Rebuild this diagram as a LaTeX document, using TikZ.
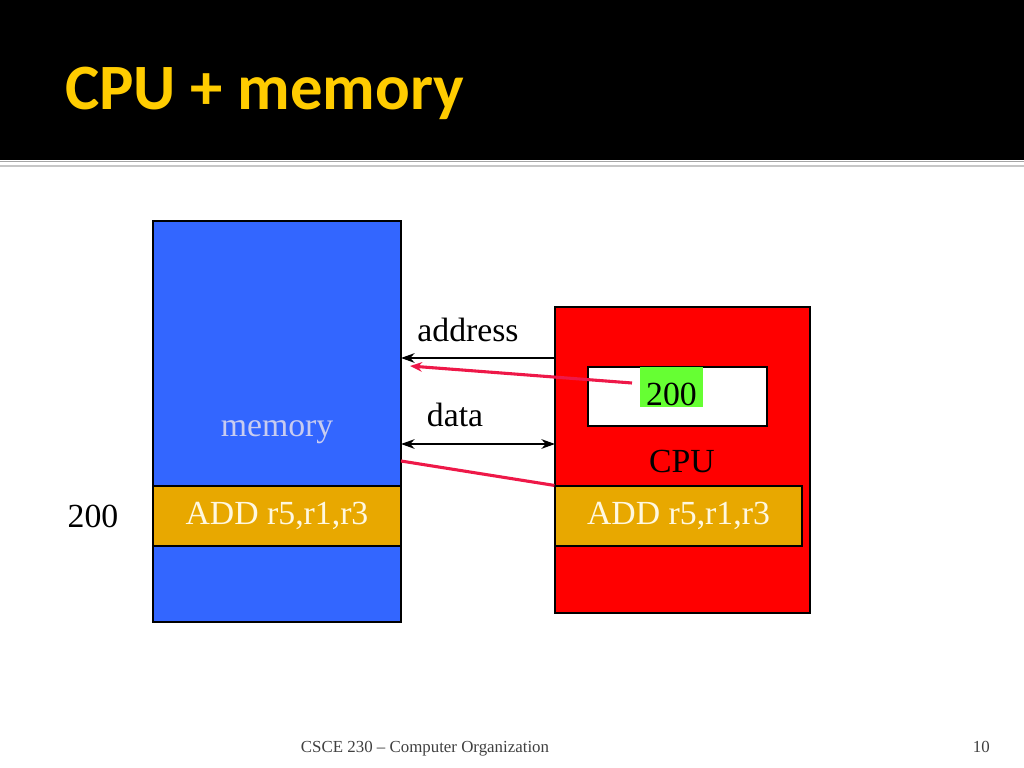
\documentclass[tikz,border=0pt]{standalone}
\usepackage{fontspec}
\setmainfont{Liberation Serif}
\newfontfamily\titlefont{Carlito}
\usetikzlibrary{arrows.meta,positioning,calc}
\definecolor{memblue}{HTML}{3366FF}
\definecolor{rowgold}{HTML}{E8A800}
\definecolor{cpured}{HTML}{FF0000}
\definecolor{regreen}{HTML}{66FF33}
\definecolor{linkred}{HTML}{EE1848}
\definecolor{titleyellow}{HTML}{FFCC00}
\definecolor{memtext}{HTML}{C8CCF0}
\definecolor{rowtext}{HTML}{FFF8E0}

\begin{document}
\begin{tikzpicture}[
  x=0.025cm, y=-0.025cm,
  font=\fontsize{24}{28}\selectfont,
  boxbase/.style={draw, line width=0.8pt, inner sep=0pt},
  membox/.style={boxbase, fill=memblue, minimum width=6.2cm, minimum height=10.025cm},
  cpubox/.style={boxbase, fill=cpured, minimum width=6.375cm, minimum height=7.65cm},
  rowbox/.style={boxbase, fill=rowgold, minimum height=1.5cm, text=rowtext},
  regbox/.style={boxbase, fill=white, minimum width=4.475cm, minimum height=1.475cm},
  lbl/.style={anchor=base, inner sep=0pt},
  arr/.style={-{Stealth[length=3.4mm,width=2.4mm]}, line width=1.4pt},
  link/.style={linkred, line width=2.2pt},
]
\useasboundingbox (0,0) rectangle (1024,768);
% header
\fill[black] (0,0) rectangle (1024,160);
\draw[gray!70, line width=1.2pt] (0,161.5) -- (1024,161.5);
\draw[gray!45, line width=1.8pt] (0,166) -- (1024,166);
\node[lbl, anchor=base west, text=titleyellow, font=\titlefont\bfseries\fontsize{46}{50}\selectfont] (title) at (65,110) {CPU + memory};

% memory side
\node[membox] (mem) at (277,421.5) {};
\node[rowbox, minimum width=6.2cm] (memrow) at (277,516) {ADD r5,r1,r3};
\node[lbl, text=memtext] (memlbl) at (277,436) {memory};
\node[lbl] (loc) at (93,527) {200};

% cpu side
\node[cpubox] (cpu) at (682.5,460) {};
\node[regbox] (reg) at (677.5,396.5) {};
\node[boxbase, draw=none, fill=regreen, minimum width=1.575cm, minimum height=1cm] (pc) at (671.5,387) {};
\node[lbl] (pcval) at (671.5,405) {200};
\node[lbl] (cpulbl) at (682,472) {CPU};
\node[rowbox, minimum width=6.175cm] (cpurow) at (678.5,516) {ADD r5,r1,r3};

% buses
\node[lbl] (addrlbl) at (468,341) {address};
\node[lbl] (datalbl) at (455,426) {data};
\coordinate (addrA) at (555,358);
\coordinate (addrB) at (401,358);
\draw[arr] (addrA) -- (addrB);
\coordinate (dataA) at (401,444);
\coordinate (dataB) at (555,444);
\draw[arr, {Stealth[length=3.4mm,width=2.4mm]}-{Stealth[length=3.4mm,width=2.4mm]}] (dataA) -- (dataB);

% red links
\coordinate (pcout) at (632,383);
\coordinate (memin) at (410,366);
\draw[link, -{Stealth[length=3mm,width=2.4mm]}] (pcout) -- (memin);
\coordinate (memout) at (401,461);
\draw[link] (memout) -- (cpurow.north west);

% footer
\node[lbl, text=black!75, font=\fontsize{12}{14}\selectfont] (foot) at (425,752) {CSCE 230 -- Computer Organization};
\node[lbl, anchor=base east, text=black!75, font=\fontsize{12}{14}\selectfont] (page) at (990,752) {10};
\end{tikzpicture}
\end{document}
